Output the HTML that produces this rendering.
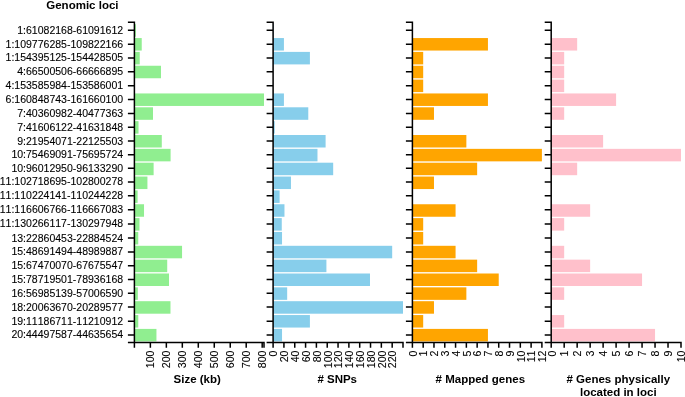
<!DOCTYPE html>
<html><head><meta charset="utf-8"><title>Genomic loci</title>
<style>
html,body{margin:0;padding:0;background:#fff;}
body{width:685px;height:397px;overflow:hidden;}
svg{display:block;will-change:transform;font-kerning:none;font-family:"Liberation Sans",sans-serif;}
.lab{font-size:10.53px;fill:#000;stroke:#000;stroke-width:0.1px;}
.tk{font-size:10.6px;fill:#000;stroke:#000;stroke-width:0.1px;}
.ttl{font-size:11.5px;font-weight:bold;fill:#000;}
.ax{stroke:#000;stroke-width:1.5;fill:none;}
</style></head><body>
<svg width="685" height="397" viewBox="0 0 685 397">
<rect width="685" height="397" fill="#fff"/>
<text class="ttl" x="82.4" y="9.0" text-anchor="middle">Genomic loci</text>
<text class="lab" x="123.1" y="33.75" text-anchor="end">1:61082168-61091612</text>
<text class="lab" x="123.1" y="47.60" text-anchor="end">1:109776285-109822166</text>
<text class="lab" x="123.1" y="61.45" text-anchor="end">1:154395125-154428505</text>
<text class="lab" x="123.1" y="75.30" text-anchor="end">4:66500506-66666895</text>
<text class="lab" x="123.1" y="89.15" text-anchor="end">4:153585984-153586001</text>
<text class="lab" x="123.1" y="103.00" text-anchor="end">6:160848743-161660100</text>
<text class="lab" x="123.1" y="116.85" text-anchor="end">7:40360982-40477363</text>
<text class="lab" x="123.1" y="130.70" text-anchor="end">7:41606122-41631848</text>
<text class="lab" x="123.1" y="144.55" text-anchor="end">9:21954071-22125503</text>
<text class="lab" x="123.1" y="158.10" text-anchor="end">10:75469091-75695724</text>
<text class="lab" x="123.1" y="171.65" text-anchor="end">10:96012950-96133290</text>
<text class="lab" x="123.1" y="185.40" text-anchor="end">11:102718695-102800278</text>
<text class="lab" x="123.1" y="199.25" text-anchor="end">11:110224141-110244228</text>
<text class="lab" x="123.1" y="213.15" text-anchor="end">11:116606766-116667083</text>
<text class="lab" x="123.1" y="227.45" text-anchor="end">11:130266117-130297948</text>
<text class="lab" x="123.1" y="241.50" text-anchor="end">13:22860453-22884524</text>
<text class="lab" x="123.1" y="255.35" text-anchor="end">15:48691494-48989887</text>
<text class="lab" x="123.1" y="269.20" text-anchor="end">15:67470070-67675547</text>
<text class="lab" x="123.1" y="283.05" text-anchor="end">15:78719501-78936168</text>
<text class="lab" x="123.1" y="296.60" text-anchor="end">16:56985139-57006590</text>
<text class="lab" x="123.1" y="310.55" text-anchor="end">18:20063670-20289577</text>
<text class="lab" x="123.1" y="324.60" text-anchor="end">19:11186711-11210912</text>
<text class="lab" x="123.1" y="338.45" text-anchor="end">20:44497587-44635654</text>
<rect x="134.40" y="24.20" width="1.51" height="12.50" fill="#90ee90"/>
<rect x="134.40" y="38.05" width="7.33" height="12.50" fill="#90ee90"/>
<rect x="134.40" y="51.90" width="5.33" height="12.50" fill="#90ee90"/>
<rect x="134.40" y="65.75" width="26.58" height="12.50" fill="#90ee90"/>
<rect x="134.40" y="79.60" width="0.00" height="12.50" fill="#90ee90"/>
<rect x="134.40" y="93.45" width="129.60" height="12.50" fill="#90ee90"/>
<rect x="134.40" y="107.30" width="18.59" height="12.50" fill="#90ee90"/>
<rect x="134.40" y="121.15" width="4.11" height="12.50" fill="#90ee90"/>
<rect x="134.40" y="135.00" width="27.38" height="12.50" fill="#90ee90"/>
<rect x="134.40" y="148.85" width="36.20" height="12.50" fill="#90ee90"/>
<rect x="134.40" y="162.70" width="19.22" height="12.50" fill="#90ee90"/>
<rect x="134.40" y="176.55" width="13.03" height="12.50" fill="#90ee90"/>
<rect x="134.40" y="190.40" width="3.21" height="12.50" fill="#90ee90"/>
<rect x="134.40" y="204.25" width="9.63" height="12.50" fill="#90ee90"/>
<rect x="134.40" y="218.10" width="5.08" height="12.50" fill="#90ee90"/>
<rect x="134.40" y="231.95" width="3.84" height="12.50" fill="#90ee90"/>
<rect x="134.40" y="245.80" width="47.66" height="12.50" fill="#90ee90"/>
<rect x="134.40" y="259.65" width="32.82" height="12.50" fill="#90ee90"/>
<rect x="134.40" y="273.50" width="34.61" height="12.50" fill="#90ee90"/>
<rect x="134.40" y="287.35" width="3.43" height="12.50" fill="#90ee90"/>
<rect x="134.40" y="301.20" width="36.08" height="12.50" fill="#90ee90"/>
<rect x="134.40" y="315.05" width="3.87" height="12.50" fill="#90ee90"/>
<rect x="134.40" y="328.90" width="22.05" height="12.50" fill="#90ee90"/>
<path class="ax" d="M127.90 22.20 H134.40 V343.25 M127.90 30.30 H134.40 M127.90 44.15 H134.40 M127.90 58.00 H134.40 M127.90 71.85 H134.40 M127.90 85.70 H134.40 M127.90 99.55 H134.40 M127.90 113.40 H134.40 M127.90 127.25 H134.40 M127.90 141.10 H134.40 M127.90 154.65 H134.40 M127.90 168.20 H134.40 M127.90 181.95 H134.40 M127.90 195.80 H134.40 M127.90 209.70 H134.40 M127.90 224.00 H134.40 M127.90 238.05 H134.40 M127.90 251.90 H134.40 M127.90 265.75 H134.40 M127.90 279.60 H134.40 M127.90 293.15 H134.40 M127.90 307.10 H134.40 M127.90 321.15 H134.40 M127.90 335.00 H134.40 M127.90 342.50 H264.75 M134.40 342.50 V347.70 M150.37 342.50 V347.70 M166.35 342.50 V347.70 M182.32 342.50 V347.70 M198.29 342.50 V347.70 M214.27 342.50 V347.70 M230.24 342.50 V347.70 M246.21 342.50 V347.70 M262.19 342.50 V347.70 M264.00 342.50 V347.70"/>
<text class="tk" transform="translate(154.17 350.50) rotate(-90)" text-anchor="end">100</text>
<text class="tk" transform="translate(170.15 350.50) rotate(-90)" text-anchor="end">200</text>
<text class="tk" transform="translate(186.12 350.50) rotate(-90)" text-anchor="end">300</text>
<text class="tk" transform="translate(202.09 350.50) rotate(-90)" text-anchor="end">400</text>
<text class="tk" transform="translate(218.07 350.50) rotate(-90)" text-anchor="end">500</text>
<text class="tk" transform="translate(234.04 350.50) rotate(-90)" text-anchor="end">600</text>
<text class="tk" transform="translate(250.01 350.50) rotate(-90)" text-anchor="end">700</text>
<text class="tk" transform="translate(265.99 350.50) rotate(-90)" text-anchor="end">800</text>
<text class="ttl" x="197.20" y="382.60" text-anchor="middle">Size (kb)</text>
<rect x="273.10" y="24.20" width="0.54" height="12.50" fill="#87ceeb"/>
<rect x="273.10" y="38.05" width="10.82" height="12.50" fill="#87ceeb"/>
<rect x="273.10" y="51.90" width="36.80" height="12.50" fill="#87ceeb"/>
<rect x="273.10" y="93.45" width="10.82" height="12.50" fill="#87ceeb"/>
<rect x="273.10" y="107.30" width="35.18" height="12.50" fill="#87ceeb"/>
<rect x="273.10" y="121.15" width="1.62" height="12.50" fill="#87ceeb"/>
<rect x="273.10" y="135.00" width="52.50" height="12.50" fill="#87ceeb"/>
<rect x="273.10" y="148.85" width="44.38" height="12.50" fill="#87ceeb"/>
<rect x="273.10" y="162.70" width="60.08" height="12.50" fill="#87ceeb"/>
<rect x="273.10" y="176.55" width="17.86" height="12.50" fill="#87ceeb"/>
<rect x="273.10" y="190.40" width="6.50" height="12.50" fill="#87ceeb"/>
<rect x="273.10" y="204.25" width="11.37" height="12.50" fill="#87ceeb"/>
<rect x="273.10" y="218.10" width="8.66" height="12.50" fill="#87ceeb"/>
<rect x="273.10" y="231.95" width="8.93" height="12.50" fill="#87ceeb"/>
<rect x="273.10" y="245.80" width="119.08" height="12.50" fill="#87ceeb"/>
<rect x="273.10" y="259.65" width="53.31" height="12.50" fill="#87ceeb"/>
<rect x="273.10" y="273.50" width="96.88" height="12.50" fill="#87ceeb"/>
<rect x="273.10" y="287.35" width="14.07" height="12.50" fill="#87ceeb"/>
<rect x="273.10" y="301.20" width="129.90" height="12.50" fill="#87ceeb"/>
<rect x="273.10" y="315.05" width="36.80" height="12.50" fill="#87ceeb"/>
<rect x="273.10" y="328.90" width="8.93" height="12.50" fill="#87ceeb"/>
<path class="ax" d="M266.60 22.20 H273.10 V343.25 M266.60 30.30 H273.10 M266.60 44.15 H273.10 M266.60 58.00 H273.10 M266.60 71.85 H273.10 M266.60 85.70 H273.10 M266.60 99.55 H273.10 M266.60 113.40 H273.10 M266.60 127.25 H273.10 M266.60 141.10 H273.10 M266.60 154.65 H273.10 M266.60 168.20 H273.10 M266.60 181.95 H273.10 M266.60 195.80 H273.10 M266.60 209.70 H273.10 M266.60 224.00 H273.10 M266.60 238.05 H273.10 M266.60 251.90 H273.10 M266.60 265.75 H273.10 M266.60 279.60 H273.10 M266.60 293.15 H273.10 M266.60 307.10 H273.10 M266.60 321.15 H273.10 M266.60 335.00 H273.10 M266.60 342.50 H403.75 M273.10 342.50 V347.70 M283.93 342.50 V347.70 M294.75 342.50 V347.70 M305.58 342.50 V347.70 M316.40 342.50 V347.70 M327.23 342.50 V347.70 M338.05 342.50 V347.70 M348.88 342.50 V347.70 M359.70 342.50 V347.70 M370.53 342.50 V347.70 M381.35 342.50 V347.70 M392.18 342.50 V347.70 M403.00 342.50 V347.70"/>
<text class="tk" transform="translate(277.40 350.50) rotate(-90)" text-anchor="end">0</text>
<text class="tk" transform="translate(288.23 350.50) rotate(-90)" text-anchor="end">20</text>
<text class="tk" transform="translate(299.05 350.50) rotate(-90)" text-anchor="end">40</text>
<text class="tk" transform="translate(309.88 350.50) rotate(-90)" text-anchor="end">60</text>
<text class="tk" transform="translate(320.70 350.50) rotate(-90)" text-anchor="end">80</text>
<text class="tk" transform="translate(331.53 350.50) rotate(-90)" text-anchor="end">100</text>
<text class="tk" transform="translate(342.35 350.50) rotate(-90)" text-anchor="end">120</text>
<text class="tk" transform="translate(353.18 350.50) rotate(-90)" text-anchor="end">140</text>
<text class="tk" transform="translate(364.00 350.50) rotate(-90)" text-anchor="end">160</text>
<text class="tk" transform="translate(374.83 350.50) rotate(-90)" text-anchor="end">180</text>
<text class="tk" transform="translate(385.65 350.50) rotate(-90)" text-anchor="end">200</text>
<text class="tk" transform="translate(396.48 350.50) rotate(-90)" text-anchor="end">220</text>
<text class="ttl" x="337.20" y="382.60" text-anchor="middle"># SNPs</text>
<rect x="412.40" y="38.05" width="75.54" height="12.50" fill="#ffa500"/>
<rect x="412.40" y="51.90" width="10.79" height="12.50" fill="#ffa500"/>
<rect x="412.40" y="65.75" width="10.79" height="12.50" fill="#ffa500"/>
<rect x="412.40" y="79.60" width="10.79" height="12.50" fill="#ffa500"/>
<rect x="412.40" y="93.45" width="75.54" height="12.50" fill="#ffa500"/>
<rect x="412.40" y="107.30" width="21.58" height="12.50" fill="#ffa500"/>
<rect x="412.40" y="135.00" width="53.96" height="12.50" fill="#ffa500"/>
<rect x="412.40" y="148.85" width="129.50" height="12.50" fill="#ffa500"/>
<rect x="412.40" y="162.70" width="64.75" height="12.50" fill="#ffa500"/>
<rect x="412.40" y="176.55" width="21.58" height="12.50" fill="#ffa500"/>
<rect x="412.40" y="204.25" width="43.17" height="12.50" fill="#ffa500"/>
<rect x="412.40" y="218.10" width="10.79" height="12.50" fill="#ffa500"/>
<rect x="412.40" y="231.95" width="10.79" height="12.50" fill="#ffa500"/>
<rect x="412.40" y="245.80" width="43.17" height="12.50" fill="#ffa500"/>
<rect x="412.40" y="259.65" width="64.75" height="12.50" fill="#ffa500"/>
<rect x="412.40" y="273.50" width="86.33" height="12.50" fill="#ffa500"/>
<rect x="412.40" y="287.35" width="53.96" height="12.50" fill="#ffa500"/>
<rect x="412.40" y="301.20" width="21.58" height="12.50" fill="#ffa500"/>
<rect x="412.40" y="315.05" width="10.79" height="12.50" fill="#ffa500"/>
<rect x="412.40" y="328.90" width="75.54" height="12.50" fill="#ffa500"/>
<path class="ax" d="M405.90 22.20 H412.40 V343.25 M405.90 30.30 H412.40 M405.90 44.15 H412.40 M405.90 58.00 H412.40 M405.90 71.85 H412.40 M405.90 85.70 H412.40 M405.90 99.55 H412.40 M405.90 113.40 H412.40 M405.90 127.25 H412.40 M405.90 141.10 H412.40 M405.90 154.65 H412.40 M405.90 168.20 H412.40 M405.90 181.95 H412.40 M405.90 195.80 H412.40 M405.90 209.70 H412.40 M405.90 224.00 H412.40 M405.90 238.05 H412.40 M405.90 251.90 H412.40 M405.90 265.75 H412.40 M405.90 279.60 H412.40 M405.90 293.15 H412.40 M405.90 307.10 H412.40 M405.90 321.15 H412.40 M405.90 335.00 H412.40 M405.90 342.50 H542.65 M412.40 342.50 V347.70 M423.19 342.50 V347.70 M433.98 342.50 V347.70 M444.77 342.50 V347.70 M455.57 342.50 V347.70 M466.36 342.50 V347.70 M477.15 342.50 V347.70 M487.94 342.50 V347.70 M498.73 342.50 V347.70 M509.52 342.50 V347.70 M520.32 342.50 V347.70 M531.11 342.50 V347.70 M541.90 342.50 V347.70 M541.90 342.50 V347.70"/>
<text class="tk" transform="translate(416.70 350.50) rotate(-90)" text-anchor="end">0</text>
<text class="tk" transform="translate(427.49 350.50) rotate(-90)" text-anchor="end">1</text>
<text class="tk" transform="translate(438.28 350.50) rotate(-90)" text-anchor="end">2</text>
<text class="tk" transform="translate(449.07 350.50) rotate(-90)" text-anchor="end">3</text>
<text class="tk" transform="translate(459.87 350.50) rotate(-90)" text-anchor="end">4</text>
<text class="tk" transform="translate(470.66 350.50) rotate(-90)" text-anchor="end">5</text>
<text class="tk" transform="translate(481.45 350.50) rotate(-90)" text-anchor="end">6</text>
<text class="tk" transform="translate(492.24 350.50) rotate(-90)" text-anchor="end">7</text>
<text class="tk" transform="translate(503.03 350.50) rotate(-90)" text-anchor="end">8</text>
<text class="tk" transform="translate(513.82 350.50) rotate(-90)" text-anchor="end">9</text>
<text class="tk" transform="translate(524.62 350.50) rotate(-90)" text-anchor="end">10</text>
<text class="tk" transform="translate(535.41 350.50) rotate(-90)" text-anchor="end">11</text>
<text class="tk" transform="translate(546.20 350.50) rotate(-90)" text-anchor="end">12</text>
<text class="ttl" x="480.30" y="382.60" text-anchor="middle"># Mapped genes</text>
<rect x="551.20" y="38.05" width="25.96" height="12.50" fill="#ffc0cb"/>
<rect x="551.20" y="51.90" width="12.98" height="12.50" fill="#ffc0cb"/>
<rect x="551.20" y="65.75" width="12.98" height="12.50" fill="#ffc0cb"/>
<rect x="551.20" y="79.60" width="12.98" height="12.50" fill="#ffc0cb"/>
<rect x="551.20" y="93.45" width="64.90" height="12.50" fill="#ffc0cb"/>
<rect x="551.20" y="107.30" width="12.98" height="12.50" fill="#ffc0cb"/>
<rect x="551.20" y="135.00" width="51.92" height="12.50" fill="#ffc0cb"/>
<rect x="551.20" y="148.85" width="129.80" height="12.50" fill="#ffc0cb"/>
<rect x="551.20" y="162.70" width="25.96" height="12.50" fill="#ffc0cb"/>
<rect x="551.20" y="204.25" width="38.94" height="12.50" fill="#ffc0cb"/>
<rect x="551.20" y="218.10" width="12.98" height="12.50" fill="#ffc0cb"/>
<rect x="551.20" y="245.80" width="12.98" height="12.50" fill="#ffc0cb"/>
<rect x="551.20" y="259.65" width="38.94" height="12.50" fill="#ffc0cb"/>
<rect x="551.20" y="273.50" width="90.86" height="12.50" fill="#ffc0cb"/>
<rect x="551.20" y="287.35" width="12.98" height="12.50" fill="#ffc0cb"/>
<rect x="551.20" y="315.05" width="12.98" height="12.50" fill="#ffc0cb"/>
<rect x="551.20" y="328.90" width="103.84" height="12.50" fill="#ffc0cb"/>
<path class="ax" d="M544.70 22.20 H551.20 V343.25 M544.70 30.30 H551.20 M544.70 44.15 H551.20 M544.70 58.00 H551.20 M544.70 71.85 H551.20 M544.70 85.70 H551.20 M544.70 99.55 H551.20 M544.70 113.40 H551.20 M544.70 127.25 H551.20 M544.70 141.10 H551.20 M544.70 154.65 H551.20 M544.70 168.20 H551.20 M544.70 181.95 H551.20 M544.70 195.80 H551.20 M544.70 209.70 H551.20 M544.70 224.00 H551.20 M544.70 238.05 H551.20 M544.70 251.90 H551.20 M544.70 265.75 H551.20 M544.70 279.60 H551.20 M544.70 293.15 H551.20 M544.70 307.10 H551.20 M544.70 321.15 H551.20 M544.70 335.00 H551.20 M544.70 342.50 H681.75 M551.20 342.50 V347.70 M564.18 342.50 V347.70 M577.16 342.50 V347.70 M590.14 342.50 V347.70 M603.12 342.50 V347.70 M616.10 342.50 V347.70 M629.08 342.50 V347.70 M642.06 342.50 V347.70 M655.04 342.50 V347.70 M668.02 342.50 V347.70 M681.00 342.50 V347.70 M681.00 342.50 V347.70"/>
<text class="tk" transform="translate(555.50 350.50) rotate(-90)" text-anchor="end">0</text>
<text class="tk" transform="translate(568.48 350.50) rotate(-90)" text-anchor="end">1</text>
<text class="tk" transform="translate(581.46 350.50) rotate(-90)" text-anchor="end">2</text>
<text class="tk" transform="translate(594.44 350.50) rotate(-90)" text-anchor="end">3</text>
<text class="tk" transform="translate(607.42 350.50) rotate(-90)" text-anchor="end">4</text>
<text class="tk" transform="translate(620.40 350.50) rotate(-90)" text-anchor="end">5</text>
<text class="tk" transform="translate(633.38 350.50) rotate(-90)" text-anchor="end">6</text>
<text class="tk" transform="translate(646.36 350.50) rotate(-90)" text-anchor="end">7</text>
<text class="tk" transform="translate(659.34 350.50) rotate(-90)" text-anchor="end">8</text>
<text class="tk" transform="translate(672.32 350.50) rotate(-90)" text-anchor="end">9</text>
<text class="tk" transform="translate(685.30 350.50) rotate(-90)" text-anchor="end">10</text>
<text class="ttl" x="618.30" y="382.60" text-anchor="middle"># Genes physically</text>
<text class="ttl" x="618.30" y="396.20" text-anchor="middle">located in loci</text>
</svg>
</body></html>
